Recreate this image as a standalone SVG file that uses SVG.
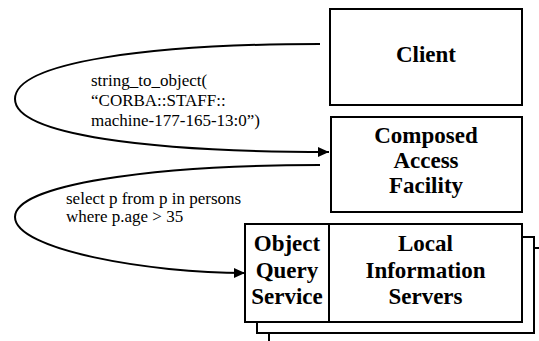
<svg xmlns="http://www.w3.org/2000/svg" width="539" height="341" viewBox="0 0 539 341">
<style>
.box{fill:#fff;stroke:#000;stroke-width:2}
.lbl{font-family:"Liberation Serif","Times New Roman",serif;font-weight:bold;font-size:23px;text-anchor:middle;fill:#000}
.note{font-family:"Liberation Serif","Times New Roman",serif;font-size:17px;fill:#000}
.conn{fill:none;stroke:#000;stroke-width:2}
</style>
<defs>
<marker id="arr" markerUnits="userSpaceOnUse" markerWidth="12" markerHeight="12" refX="11" refY="5" orient="auto" viewBox="0 0 12 10">
<path d="M0,0 L11,5 L0,10 z" fill="#000"/>
</marker>
</defs>
<rect width="539" height="341" fill="#fff"/>
<g id="client">
<rect class="box" x="330" y="9" width="192" height="96"/>
<text class="lbl" x="426" y="62">Client</text>
</g>
<g id="composed-access-facility">
<rect class="box" x="331" y="117" width="191" height="95"/>
<text class="lbl" x="426" y="143">Composed</text>
<text class="lbl" x="426" y="168">Access</text>
<text class="lbl" x="426" y="193">Facility</text>
</g>
<g id="servers-stack">
<rect class="box" x="269" y="248" width="277" height="96"/>
<rect class="box" x="257" y="237" width="277" height="96"/>
</g>
<g id="object-query-service">
<rect class="box" x="245" y="224" width="84" height="98"/>
<text class="lbl" x="287" y="251">Object</text>
<text class="lbl" x="287" y="278">Query</text>
<text class="lbl" x="287" y="304">Service</text>
</g>
<g id="local-information-servers">
<rect class="box" x="329" y="224" width="193" height="98"/>
<text class="lbl" x="425.5" y="251">Local</text>
<text class="lbl" x="425.5" y="278">Information</text>
<text class="lbl" x="425.5" y="304">Servers</text>
</g>
<g id="connectors">
<path class="conn" d="M320,44 C150,44 15,62 15,99 C15,135 150,152 329,152" marker-end="url(#arr)"/>
<path class="conn" d="M320,165 C150,165 15,185 15,217 C15,250 150,273 245,273" marker-end="url(#arr)"/>
<text class="note" x="91" y="86">string_to_object(</text>
<text class="note" x="91" y="106">“CORBA::STAFF::</text>
<text class="note" x="91" y="126">machine-177-165-13:0”)</text>
<text class="note" x="66" y="204">select p from p in persons</text>
<text class="note" x="66" y="222">where p.age &gt; 35</text>
</g>
</svg>
